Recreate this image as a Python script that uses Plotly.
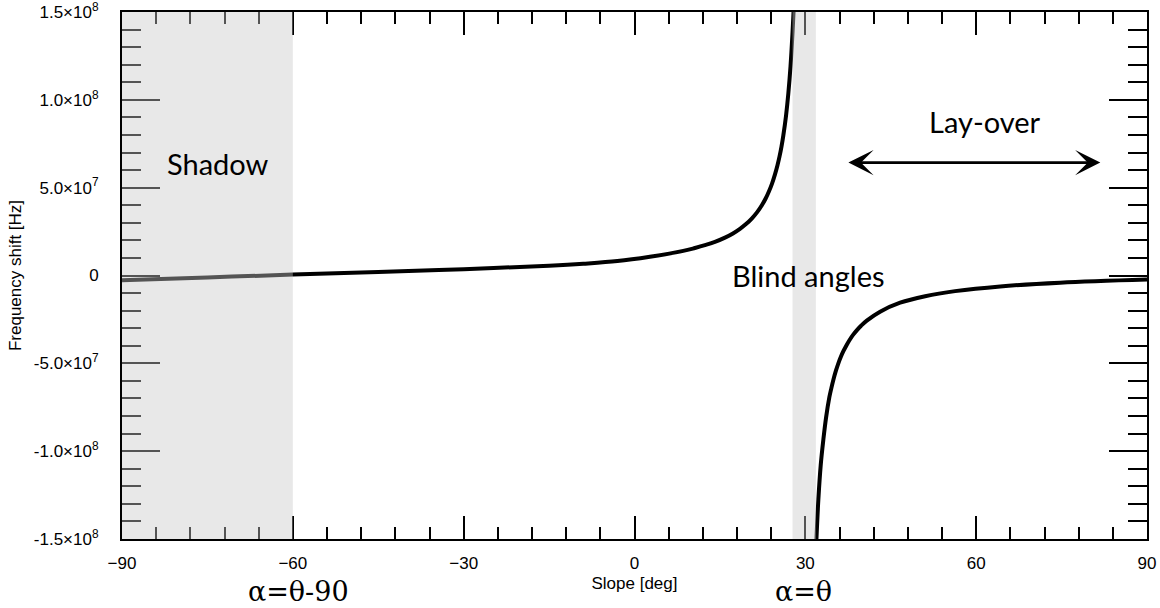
import plotly.graph_objects as go

# ---- data ----
slope_left = [-90, -75, -60, -45, -30, -15, -9, -3, 2.7, 8.56, 10.62, 12.37, 14.13, 15.89, 17.29,
              18.52, 19.58, 20.63, 21.51, 22.39, 23.01, 23.62, 24.15, 24.67, 25.11, 25.47, 25.82,
              26.13, 26.61, 27.01, 27.40, 27.75, 27.93]
shift_left = [-2.7e6, -1.1e6, 0.5e6, 2.0e6, 3.6e6, 5.6e6, 6.7e6, 8.2e6, 1.07e7, 1.40e7, 1.566e7,
              1.726e7, 1.914e7, 2.154e7, 2.394e7, 2.657e7, 2.926e7, 3.257e7, 3.594e7, 4.017e7,
              4.371e7, 4.80e7, 5.234e7, 5.76e7, 6.28e7, 6.78e7, 7.354e7, 7.96e7, 9.10e7,
              1.035e8, 1.192e8, 1.383e8, 1.50e8]
slope_right = [31.95, 32.29, 32.70, 33.17, 33.64, 34.22, 34.57, 34.96, 35.40, 35.80, 36.24, 36.68,
               37.21, 37.77, 38.38, 39.03, 39.79, 40.79, 43.13, 46.65, 51.04, 56.3, 64.22, 74.76,
               90]
shift_right = [-1.50e8, -1.275e8, -1.08e8, -9.33e7, -8.09e7, -6.93e7, -6.41e7, -5.89e7, -5.39e7,
               -5.0e7, -4.63e7, -4.31e7, -3.98e7, -3.67e7, -3.38e7, -3.12e7, -2.86e7, -2.57e7,
               -2.06e7, -1.55e7, -1.18e7, -8.9e6, -6.2e6, -4.1e6, -2.34e6]

x_ticks = [-90, -60, -30, 0, 30, 60, 90]
y_ticks = [-1.5e8, -1.0e8, -5.0e7, 0, 5.0e7, 1.0e8, 1.5e8]
y_ticktext = ["-1.5×10<sup>8</sup>", "-1.0×10<sup>8</sup>", "-5.0×10<sup>7</sup>", "0",
              "5.0×10<sup>7</sup>", "1.0×10<sup>8</sup>", "1.5×10<sup>8</sup>"]

shadow_range = [-90, -60]
blind_range = [27.75, 31.85]
layover_arrow = [37.3, 81.8]

fig = go.Figure()
for xs, ys in [(slope_left, shift_left), (slope_right, shift_right)]:
    fig.add_trace(go.Scatter(x=xs, y=ys, mode="lines",
                             line=dict(color="black", width=4, shape="spline", smoothing=1.0),
                             hoverinfo="skip"))

shade = "rgba(200,200,200,0.42)"
for r in (shadow_range, blind_range):
    fig.add_shape(type="rect", xref="x", yref="y", x0=r[0], x1=r[1], y0=-1.5e8, y1=1.5e8,
                  fillcolor=shade, line=dict(width=0), layer="above")

ann_font = dict(family="Lato", size=29, color="black")
fig.add_annotation(x=-73.2, y=6.39e7, text="Shadow", showarrow=False, font=ann_font,
                   xanchor="center", yanchor="middle")
fig.add_annotation(x=30.5, y=0, text="Blind angles", showarrow=False, font=ann_font,
                   xanchor="center", yanchor="middle")
fig.add_annotation(x=61.5, y=8.76e7, text="Lay-over", showarrow=False, font=ann_font,
                   xanchor="center", yanchor="middle")
fig.add_annotation(x=layover_arrow[1], y=6.43e7, ax=layover_arrow[0], ay=6.43e7,
                   axref="x", ayref="y", text="", showarrow=True,
                   arrowhead=3, startarrowhead=3, arrowside="end+start",
                   arrowwidth=2.8, arrowsize=1.5, startarrowsize=1.5, arrowcolor="black",
                   standoff=0, startstandoff=0)

serif = dict(family="DejaVu Serif", size=27, color="black")
fig.add_annotation(x=-59, y=-0.1, yref="paper", text="α=θ-90", showarrow=False, font=serif,
                   xanchor="center", yanchor="middle")
fig.add_annotation(x=29.6, y=-0.1, yref="paper", text="α=θ", showarrow=False, font=serif,
                   xanchor="center", yanchor="middle")

fig.update_xaxes(range=[-90, 90], tickvals=x_ticks, ticks="inside", ticklen=23, tickwidth=1.5,
                 tickcolor="black", minor=dict(ticks="inside", ticklen=12, dtick=6, tick0=-90,
                                               tickwidth=1.5, tickcolor="black"),
                 showline=True, linewidth=2, linecolor="black", mirror="ticks",
                 showgrid=False, zeroline=False, ticklabelstandoff=8, ticklabeloverflow="allow",
                 tickfont=dict(size=17),
                 title=dict(text="Slope [deg]", font=dict(size=17), standoff=5))
fig.update_yaxes(range=[-1.5e8, 1.5e8], tickvals=y_ticks, ticktext=y_ticktext, ticks="inside",
                 ticklen=38, tickwidth=1.5, tickcolor="black",
                 minor=dict(ticks="inside", ticklen=19, dtick=1e7, tick0=0, tickwidth=1.5,
                            tickcolor="black"),
                 showline=True, linewidth=2, linecolor="black", mirror="ticks",
                 showgrid=False, zeroline=False, ticklabelstandoff=18, ticklabeloverflow="allow",
                 tickfont=dict(size=17),
                 title=dict(text="Frequency shift [Hz]", font=dict(size=17), standoff=8))

fig.update_layout(width=1160, height=608, margin=dict(l=122, r=13, t=12, b=69, autoexpand=False),
                  plot_bgcolor="white", paper_bgcolor="white", showlegend=False,
                  font=dict(family="Liberation Sans, Arial, sans-serif", size=17, color="black"))

fig.write_html("out.html", config={"displayModeBar": False},
               post_script="document.body.style.margin='0';document.body.style.overflow='hidden';")
